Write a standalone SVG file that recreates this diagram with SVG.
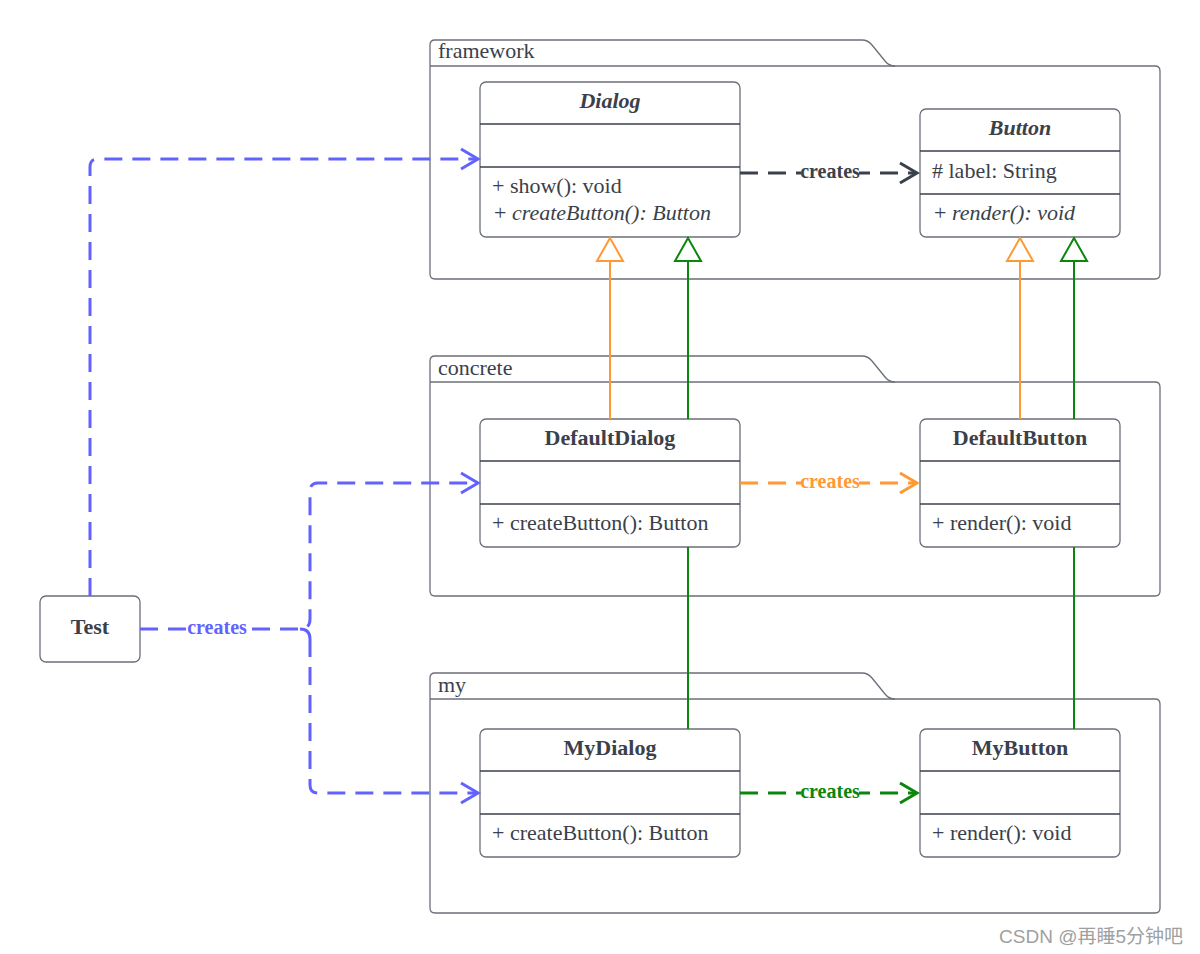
<svg xmlns="http://www.w3.org/2000/svg" width="1200" height="954" viewBox="0 0 1200 954">
<style>
.pkg{fill:#fff;stroke:#6b6f78;stroke-width:1.3}
.cls{fill:#fff;stroke:#6b6f78;stroke-width:1.3}
.sep{stroke:#3a414a;stroke-width:1.3}
.t{font-family:"Liberation Serif","DejaVu Serif",serif;font-size:22px;fill:#3a414a}
.b{font-weight:bold;text-anchor:middle}
.i{font-style:italic}
.lbl{font-family:"Liberation Serif","DejaVu Serif",serif;font-size:20px;font-weight:bold;text-anchor:middle}
.dash{fill:none;stroke-width:3;stroke-dasharray:18,10}
.blue{stroke:#6262ff}
.orange{stroke:#ff9933}
.green{stroke:#0a870a}
.dark{stroke:#3a414a}
</style>
<g id="pkg-framework">
<path class="pkg" d="M430 66 V45 Q430 40 435 40 H862 Q868 40 872 45 L885 61 Q889 66 895 66 H1155 Q1160 66 1160 71 V274 Q1160 279 1155 279 H435 Q430 279 430 274 Z"/>
<line class="pkg" x1="430" y1="66" x2="895" y2="66"/>
<text class="t" x="438" y="58">framework</text>
</g>
<g id="pkg-concrete">
<path class="pkg" d="M430 382 V361 Q430 356 435 356 H862 Q868 356 872 361 L885 377 Q889 382 895 382 H1155 Q1160 382 1160 387 V591 Q1160 596 1155 596 H435 Q430 596 430 591 Z"/>
<line class="pkg" x1="430" y1="382" x2="895" y2="382"/>
<text class="t" x="438" y="375">concrete</text>
</g>
<g id="pkg-my">
<path class="pkg" d="M430 699 V678 Q430 673 435 673 H862 Q868 673 872 678 L885 694 Q889 699 895 699 H1155 Q1160 699 1160 704 V908 Q1160 913 1155 913 H435 Q430 913 430 908 Z"/>
<line class="pkg" x1="430" y1="699" x2="895" y2="699"/>
<text class="t" x="438" y="692">my</text>
</g>
<g id="Dialog">
<rect class="cls" x="480" y="82" width="260" height="155" rx="6"/>
<line class="sep" x1="480" y1="124" x2="740" y2="124"/>
<line class="sep" x1="480" y1="167" x2="740" y2="167"/>
<text class="t b i" x="610" y="108">Dialog</text>
<text class="t" x="492" y="193">+ show(): void</text>
<text class="t" x="494" y="220">+ <tspan class="i">createButton(): Button</tspan></text>
</g>
<g id="Button">
<rect class="cls" x="920" y="109" width="200" height="128" rx="6"/>
<line class="sep" x1="920" y1="151" x2="1120" y2="151"/>
<line class="sep" x1="920" y1="194" x2="1120" y2="194"/>
<text class="t b i" x="1020" y="135">Button</text>
<text class="t" x="932" y="178"># label: String</text>
<text class="t" x="934" y="220">+ <tspan class="i">render(): void</tspan></text>
</g>
<g id="DefaultDialog">
<rect class="cls" x="480" y="419" width="260" height="128" rx="6"/>
<line class="sep" x1="480" y1="461" x2="740" y2="461"/>
<line class="sep" x1="480" y1="504" x2="740" y2="504"/>
<text class="t b" x="610" y="445">DefaultDialog</text>
<text class="t" x="492" y="530">+ createButton(): Button</text>
</g>
<g id="DefaultButton">
<rect class="cls" x="920" y="419" width="200" height="128" rx="6"/>
<line class="sep" x1="920" y1="461" x2="1120" y2="461"/>
<line class="sep" x1="920" y1="504" x2="1120" y2="504"/>
<text class="t b" x="1020" y="445">DefaultButton</text>
<text class="t" x="932" y="530">+ render(): void</text>
</g>
<g id="MyDialog">
<rect class="cls" x="480" y="729" width="260" height="128" rx="6"/>
<line class="sep" x1="480" y1="771" x2="740" y2="771"/>
<line class="sep" x1="480" y1="814" x2="740" y2="814"/>
<text class="t b" x="610" y="755">MyDialog</text>
<text class="t" x="492" y="840">+ createButton(): Button</text>
</g>
<g id="MyButton">
<rect class="cls" x="920" y="729" width="200" height="128" rx="6"/>
<line class="sep" x1="920" y1="771" x2="1120" y2="771"/>
<line class="sep" x1="920" y1="814" x2="1120" y2="814"/>
<text class="t b" x="1020" y="755">MyButton</text>
<text class="t" x="932" y="840">+ render(): void</text>
</g>
<g id="Test">
<rect class="cls" x="40" y="596" width="100" height="66" rx="6"/>
<text class="t b" x="90" y="634">Test</text>
</g>
<g id="connectors">
<g fill="#fff" stroke-width="2">
<line class="orange" x1="610" y1="419" x2="610" y2="261"/>
<polygon class="orange" points="610,238 597,261 623,261"/>
<line class="green" x1="688" y1="419" x2="688" y2="261"/>
<polygon class="green" points="688,238 675,261 701,261"/>
<line class="orange" x1="1020" y1="419" x2="1020" y2="261"/>
<polygon class="orange" points="1020,238 1007,261 1033,261"/>
<line class="green" x1="1074" y1="419" x2="1074" y2="261"/>
<polygon class="green" points="1074,238 1061,261 1087,261"/>
<line class="green" x1="688" y1="729" x2="688" y2="547"/>
<line class="green" x1="1074" y1="729" x2="1074" y2="547"/>
</g>
<path class="dash dark" d="M740 173 H916"/>
<path fill="none" class="dark" stroke-width="3" d="M900 163 L917 173 L900 183"/>
<rect x="801" y="162" width="58" height="20" fill="#fff"/>
<text class="lbl" x="830" y="178" fill="#3a414a">creates</text>
<path class="dash orange" d="M740 483 H916"/>
<path fill="none" class="orange" stroke-width="3" d="M900 473 L917 483 L900 493"/>
<rect x="801" y="472" width="58" height="20" fill="#fff"/>
<text class="lbl" x="830" y="488" fill="#ff9933">creates</text>
<path class="dash green" d="M740 793 H916"/>
<path fill="none" class="green" stroke-width="3" d="M900 783 L917 793 L900 803"/>
<rect x="801" y="782" width="58" height="20" fill="#fff"/>
<text class="lbl" x="830" y="798" fill="#0a870a">creates</text>
<path class="dash blue" d="M90 596 V167 Q90 159 98 159 H477"/>
<path fill="none" class="blue" stroke-width="3" d="M461 149 L478 159 L461 169"/>
<path class="dash blue" d="M140 629 H300 Q310 629 310 619 V491 Q310 483 318 483 H477"/>
<path fill="none" class="blue" stroke-width="3" d="M461 473 L478 483 L461 493"/>
<path class="dash blue" d="M310 639 Q310 629 300 629 M310 639 V785 Q310 793 318 793 H477"/>
<path fill="none" class="blue" stroke-width="3" d="M461 783 L478 793 L461 803"/>
<rect x="188" y="618" width="58" height="20" fill="#fff"/>
<text class="lbl" x="217" y="634" fill="#6262ff">creates</text>
</g>
<text x="1183" y="943" text-anchor="end" font-family="'Liberation Sans','Noto Sans CJK SC',sans-serif" font-size="19" fill="#a0a0a0">CSDN @再睡5分钟吧</text>
</svg>
